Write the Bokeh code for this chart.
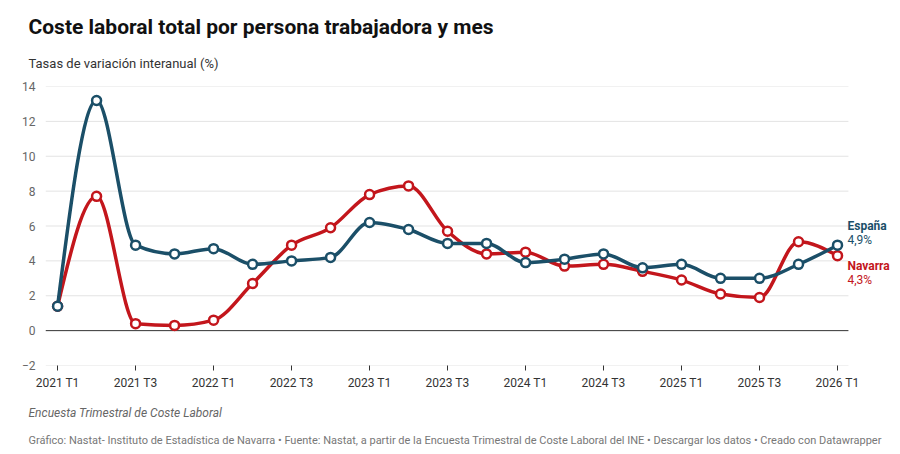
import numpy as np
from bokeh.plotting import figure
from bokeh.models import FixedTicker, Title, Range1d
from bokeh.core.properties import value
from bokeh.embed import file_html
from bokeh.resources import INLINE

quarters = ["2021 T1","2021 T2","2021 T3","2021 T4","2022 T1","2022 T2","2022 T3","2022 T4",
            "2023 T1","2023 T2","2023 T3","2023 T4","2024 T1","2024 T2","2024 T3","2024 T4",
            "2025 T1","2025 T2","2025 T3","2025 T4","2026 T1"]
espana = [1.4, 13.2, 4.9, 4.4, 4.7, 3.8, 4.0, 4.2, 6.2, 5.8, 5.0, 5.0, 3.9, 4.1, 4.4, 3.6, 3.8, 3.0, 3.0, 3.8, 4.9]
navarra = [1.4, 7.7, 0.4, 0.3, 0.6, 2.7, 4.9, 5.9, 7.8, 8.3, 5.7, 4.4, 4.5, 3.7, 3.8, 3.4, 2.9, 2.1, 1.9, 5.1, 4.3]
yticks = [-2, 0, 2, 4, 6, 8, 10, 12, 14]

C_ES = "#1b4f68"
C_NA = "#c3161c"

def monotone(y):
    y = np.asarray(y, float); n = len(y); s = np.diff(y)
    t = np.zeros(n)
    for i in range(1, n-1):
        s0, s1 = s[i-1], s[i]
        p_ = (s0 + s1) / 2
        t[i] = (np.sign(s0) + np.sign(s1)) * min(abs(s0), abs(s1), 0.5*abs(p_))
    t[0] = (3*s[0] - t[1]) / 2
    t[-1] = (3*s[-1] - t[-2]) / 2
    x = np.arange(n, dtype=float)
    return dict(x0=x[:-1], y0=y[:-1], x1=x[1:], y1=y[1:],
                cx0=x[:-1]+1/3, cy0=y[:-1]+t[:-1]/3, cx1=x[1:]-1/3, cy1=y[1:]-t[1:]/3)

GX0, GX1 = -0.31, 20.28
p = figure(width=892, height=446, output_backend="svg", toolbar_location=None,
           x_range=Range1d(GX0, 21.41), y_range=Range1d(-2, 14),
           min_border_left=45, min_border_right=0, min_border_bottom=78, min_border_top=86)
p.outline_line_color = None
p.background_fill_color = "white"
p.border_fill_color = "white"

p.xgrid.grid_line_color = None
p.ygrid.grid_line_color = None
p.yaxis.ticker = FixedTicker(ticks=yticks)
p.yaxis.axis_line_color = None
p.yaxis.major_tick_line_color = None
p.yaxis.minor_tick_line_color = None
p.yaxis.major_label_standoff = 4
p.yaxis.major_label_text_color = "#666666"
p.yaxis.major_label_text_font = "Roboto"
p.yaxis.major_label_text_font_size = "12px"
p.xaxis.ticker = FixedTicker(ticks=list(range(0, 21, 2)))
p.xaxis.major_label_overrides = {i: quarters[i] for i in range(0, 21, 2)}
p.xaxis.axis_line_color = None
p.xaxis.major_tick_line_color = "#333333"
p.xaxis.major_tick_in = 0
p.xaxis.major_tick_out = 5
p.xaxis.minor_tick_line_color = None
p.xaxis.major_label_text_color = "#333333"
p.xaxis.major_label_text_font = "Roboto"
p.xaxis.major_label_text_font_size = "12px"

gy = [t for t in yticks if t != 0]
p.segment(x0=[GX0]*len(gy), x1=[GX1]*len(gy), y0=gy, y1=gy, line_color="#e3e3e3", line_width=1)
p.segment(x0=[GX0], x1=[GX1], y0=[0], y1=[0], line_color="#333333", line_width=1)

for data, c in ((navarra, C_NA), (espana, C_ES)):
    b = monotone(data)
    p.bezier(line_color=c, line_width=3.5, **b)
    p.scatter(list(range(len(data))), data, size=9, fill_color="white", line_color=c, line_width=2.5)

lab_txt = ["España", "4,9%", "Navarra", "4,3%"]
lab_y = [6.0, 5.2, 3.7, 2.9]
lab_c = [C_ES, C_ES, C_NA, C_NA]
lab_st = ["bold", "normal", "bold", "normal"]
for t, y, c, st in zip(lab_txt, lab_y, lab_c, lab_st):
    p.text(x=[20], y=[y], text=[t], x_offset=10, text_color=c, text_font=value("Roboto"),
           text_font_size="12px", text_font_style=st, text_baseline="middle")

p.add_layout(Title(text="Encuesta Trimestral de Coste Laboral", text_font="Roboto", text_font_size="12px",
                   text_color="#666666", text_font_style="italic", offset=-17, standoff=23), "below")
p.add_layout(Title(text="Gráfico: Nastat- Instituto de Estadística de Navarra • Fuente: Nastat, a partir de la Encuesta Trimestral de Coste Laboral del INE • Descargar los datos • Creado con Datawrapper",
                   text_font="Roboto", text_font_size="11px", text_color="#777777",
                   text_font_style="normal", offset=-17, standoff=0), "below")
p.add_layout(Title(text="Tasas de variación interanual (%)", text_font="Roboto", text_font_size="13px",
                   text_color="#333333", text_font_style="normal", offset=-17, standoff=31), "above")
p.add_layout(Title(text="Coste laboral total por persona trabajadora y mes", text_font="Roboto",
                   text_font_size="21px", text_color="#111111", text_font_style="bold", offset=-17, standoff=0), "above")

open("out.html", "w").write(file_html(p, INLINE))
